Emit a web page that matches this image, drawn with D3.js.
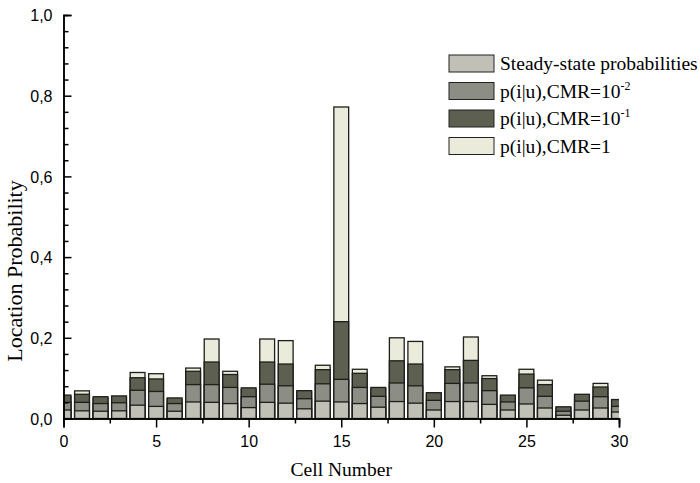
<!DOCTYPE html>
<html>
<head>
<meta charset="utf-8">
<script src="https://d3js.org/d3.v7.min.js"></script>
<style>
  html, body { margin: 0; padding: 0; background: #fff; }
  svg { display: block; }
</style>
</head>
<body>
<div id="chart"></div>
<script>
// Cell numbers on the x axis
const cells = [0,1,2,3,4,5,6,7,8,9,10,11,12,13,14,15,16,17,18,19,20,21,22,23,24,25,26,27,28,29,30];

// Series values, each bar drawn from zero and overlaid
const steadyState = [0.021,0.019,0.018,0.019,0.033,0.030,0.018,0.041,0.040,0.037,0.027,0.040,0.038,0.024,0.043,0.041,0.037,0.028,0.042,0.038,0.021,0.042,0.042,0.035,0.021,0.036,0.026,0.008,0.021,0.026,0.016];
const cmr001 = [0.040,0.040,0.037,0.039,0.070,0.067,0.037,0.084,0.084,0.077,0.054,0.085,0.081,0.049,0.086,0.097,0.077,0.055,0.088,0.081,0.045,0.087,0.088,0.069,0.041,0.076,0.055,0.018,0.043,0.054,0.030];
const cmr01 = [0.058,0.060,0.054,0.056,0.101,0.098,0.051,0.117,0.140,0.109,0.076,0.140,0.135,0.069,0.121,0.240,0.112,0.077,0.143,0.135,0.064,0.121,0.144,0.099,0.058,0.110,0.084,0.029,0.060,0.078,0.047];
const cmr1 = [0.055,0.0685,0.050,0.052,0.114,0.111,0.048,0.125,0.197,0.117,0.072,0.197,0.193,0.066,0.132,0.772,0.122,0.074,0.200,0.191,0.061,0.128,0.202,0.106,0.055,0.122,0.095,0.027,0.057,0.087,0.044];

const xTicks = [0, 5, 10, 15, 20, 25, 30];
const xMinorTicks = [2.5, 7.5, 12.5, 17.5, 22.5, 27.5];
const yTicks = [0, 0.2, 0.4, 0.6, 0.8, 1.0];
const yMinorTicks = [0.04,0.08,0.12,0.16,0.24,0.28,0.32,0.36,0.44,0.48,0.52,0.56,0.64,0.68,0.72,0.76,0.84,0.88,0.92,0.96];

const width = 700, height = 483;

const svg = d3.select('#chart').append('svg')
  .attr('width', width)
  .attr('height', height);

const x = d3.scaleLinear().domain([0, 30]).range([63.5, 619]);
const y = d3.scaleLinear().domain([0, 1]).range([418.5, 15]);

const barW = x(0.8) - x(0);

// Series drawn back to front (tallest first)
const series = [
  { name: 'cmr1',   values: cmr1,        color: '#ebebdc' },
  { name: 'cmr01',  values: cmr01,       color: '#5d5f51' },
  { name: 'cmr001', values: cmr001,      color: '#8c8d84' },
  { name: 'steady', values: steadyState, color: '#c0c0b7' }
];

svg.append('defs').append('clipPath').attr('id', 'plotClip')
  .append('rect')
  .attr('x', x(0)).attr('y', y(1) - 2)
  .attr('width', x(30) - x(0)).attr('height', y(0) - y(1) + 2);

const plot = svg.append('g').attr('clip-path', 'url(#plotClip)');

series.forEach(s => {
  plot.append('g').selectAll('rect')
    .data(cells)
    .enter().append('rect')
    .attr('x', d => x(d) - barW / 2)
    .attr('y', (d, i) => y(s.values[i]))
    .attr('width', barW)
    .attr('height', (d, i) => y(0) - y(s.values[i]))
    .attr('fill', s.color)
    .attr('stroke', '#1e1e1a')
    .attr('stroke-width', 1.3);
});

// Axes
const xAxis = d3.axisBottom(x).tickValues(xTicks).tickSize(9).tickFormat(d3.format('d'));
const xMinor = d3.axisBottom(x).tickValues(xMinorTicks).tickSize(5).tickFormat('');
const yAxis = d3.axisLeft(y).tickValues(yTicks).tickSize(-8).tickPadding(11)
  .tickFormat(d => d3.format('.1f')(d).replace('.', ','));
const yMinor = d3.axisLeft(y).tickValues(yMinorTicks).tickSize(-5).tickFormat('');

function styleAxis(g) {
  g.select('.domain').attr('stroke', '#000').attr('stroke-width', 1.5);
  g.selectAll('.tick line').attr('stroke', '#000').attr('stroke-width', 1.5);
  g.selectAll('.tick text')
    .attr('fill', '#000')
    .attr('font-family', 'Liberation Sans, Arial, sans-serif')
    .attr('font-size', 16);
}

svg.append('g').attr('transform', `translate(0,${y(0)})`).call(xMinor).call(styleAxis);
svg.append('g').attr('transform', `translate(0,${y(0)})`).call(xAxis).call(styleAxis)
  .selectAll('.tick text').attr('dy', '1.05em');
svg.append('g').attr('transform', `translate(${x(0)},0)`).call(yMinor).call(styleAxis);
svg.append('g').attr('transform', `translate(${x(0)},0)`).call(yAxis).call(styleAxis)
  .selectAll('.tick text').attr('dy', '0.36em');

// Axis titles
svg.append('text')
  .attr('x', (x(0) + x(30)) / 2)
  .attr('y', 476)
  .attr('text-anchor', 'middle')
  .attr('font-family', 'Liberation Serif, Times New Roman, serif')
  .attr('font-size', 19.5)
  .text('Cell Number');

svg.append('text')
  .attr('transform', 'translate(22,271) rotate(-90)')
  .attr('text-anchor', 'middle')
  .attr('font-family', 'Liberation Serif, Times New Roman, serif')
  .attr('font-size', 22)
  .text('Location Probability');

// Legend
const legendItems = [
  { color: '#c0c0b7', text: 'Steady-state probabilities', sup: null },
  { color: '#8c8d84', text: 'p(i|u),CMR=10', sup: '-2' },
  { color: '#5d5f51', text: 'p(i|u),CMR=10', sup: '-1' },
  { color: '#ebebdc', text: 'p(i|u),CMR=1', sup: null }
];

const legend = svg.append('g').attr('transform', 'translate(449,55)');

legendItems.forEach((l, i) => {
  const row = legend.append('g').attr('transform', `translate(0,${i * 27.5})`);
  row.append('rect')
    .attr('x', 0).attr('y', 0)
    .attr('width', 45).attr('height', 17)
    .attr('fill', l.color)
    .attr('stroke', '#222')
    .attr('stroke-width', 1);
  const t = row.append('text')
    .attr('x', 51).attr('y', 15)
    .attr('font-family', 'Liberation Serif, Times New Roman, serif')
    .attr('font-size', 19.5)
    .text(l.text);
  if (l.sup) {
    t.append('tspan')
      .attr('dy', -8)
      .attr('font-size', 12)
      .text(l.sup);
  }
});
</script>
</body>
</html>
